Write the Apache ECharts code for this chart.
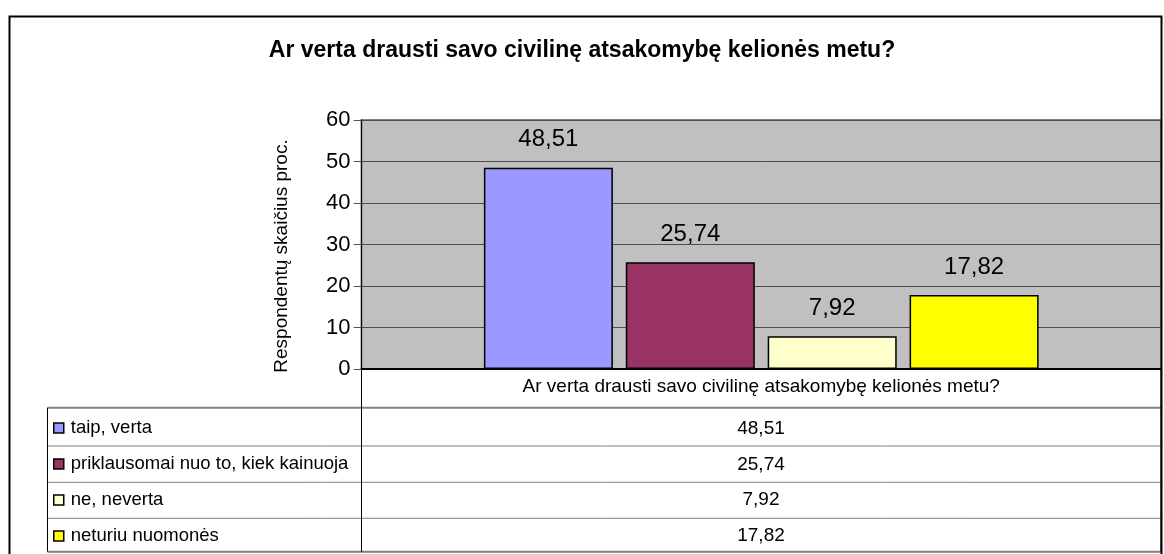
<!DOCTYPE html>
<html>
<head>
<meta charset="utf-8">
<script src="https://cdn.jsdelivr.net/npm/echarts@6/dist/echarts.min.js"></script>
<style>
html,body{margin:0;padding:0;background:#fff;}
#chart{width:1164px;height:554px;}
</style>
</head>
<body>
<div id="chart"></div>
<script>
const chartTitle = 'Ar verta drausti savo civilinę atsakomybę kelionės metu?';
const categories = ['Ar verta drausti savo civilinę atsakomybę kelionės metu?'];
const seriesNames = ['taip, verta', 'priklausomai nuo to, kiek kainuoja', 'ne, neverta', 'neturiu nuomonės'];
const seriesValues = [48.51, 25.74, 7.92, 17.82];
const seriesColors = ['#9999FF', '#993366', '#FFFFCC', '#FFFF00'];
const yTicks = [0, 10, 20, 30, 40, 50, 60];
const yAxisName = 'Respondentų skaičius proc.';

const FONT = '"Liberation Sans", Arial, sans-serif';
const fmt = v => v.toFixed(2).replace('.', ',');

const chart = echarts.init(document.getElementById('chart'), null, {renderer: 'canvas'});

// table geometry
const tLeft = 47.5, tRight = 1161, plotLeft = 361.5, plotBottom = 369;
const rowLines = [407.7, 446, 482.3, 518.3, 551.7];
const rowCenters = [428.3, 464.3, 500.2, 535.7];

const graphics = [];
// outer border
graphics.push({type: 'rect', shape: {x: 9.5, y: 16.5, width: 1152, height: 560}, style: {fill: null, stroke: '#000', lineWidth: 2}, z: 100});
// table horizontal lines
rowLines.forEach((y, i) => {
  graphics.push({type: 'line', shape: {x1: tLeft, y1: y, x2: tRight, y2: y},
    style: {stroke: '#808080', lineWidth: (i === 0 || i === rowLines.length - 1) ? 2 : 1}, z: 50});
});
// table vertical lines
graphics.push({type: 'line', shape: {x1: tLeft, y1: rowLines[0], x2: tLeft, y2: rowLines[rowLines.length - 1]}, style: {stroke: '#000', lineWidth: 1}, z: 51});
graphics.push({type: 'line', shape: {x1: plotLeft, y1: plotBottom, x2: plotLeft, y2: rowLines[rowLines.length - 1]}, style: {stroke: '#000', lineWidth: 1}, z: 51});
graphics.push({type: 'line', shape: {x1: tRight, y1: plotBottom, x2: tRight, y2: rowLines[rowLines.length - 1]}, style: {stroke: '#000', lineWidth: 1}, z: 51});
// table values
seriesValues.forEach((v, i) => {
  graphics.push({type: 'text', x: 761, y: rowCenters[i],
    style: {text: fmt(v), font: '19px ' + FONT, fill: '#000', align: 'center', verticalAlign: 'middle'}, z: 52});
});

const option = {
  backgroundColor: '#ffffff',
  animation: false,
  title: {
    text: chartTitle,
    left: 'center',
    top: 34,
    textStyle: {fontFamily: FONT, fontSize: 23, fontWeight: 'bold', color: '#000'}
  },
  legend: {
    orient: 'vertical',
    left: 53,
    top: 418,
    padding: 0,
    height: 200,
    itemWidth: 10,
    itemHeight: 10,
    itemGap: 16,
    icon: 'rect',
    selectedMode: false,
    itemStyle: {borderColor: '#000', borderWidth: 1.5},
    textStyle: {fontFamily: FONT, fontSize: 18.5, color: '#000', lineHeight: 20, padding: [0, 0, 0, 2]},
    data: seriesNames
  },
  grid: {
    left: plotLeft, top: 120, right: 1164 - tRight, bottom: 554 - plotBottom,
    show: true, backgroundColor: '#C0C0C0', borderColor: '#808080', borderWidth: 2,
    containLabel: false
  },
  xAxis: {
    type: 'category',
    data: categories,
    axisLine: {show: true, lineStyle: {color: '#000', width: 2}},
    axisTick: {show: false},
    axisLabel: {fontFamily: FONT, fontSize: 19, color: '#000', margin: 8},
    splitLine: {show: false}
  },
  yAxis: {
    type: 'value',
    min: yTicks[0], max: yTicks[yTicks.length - 1], interval: 10,
    name: yAxisName,
    nameLocation: 'middle',
    nameRotate: 90,
    nameGap: 70,
    nameTextStyle: {fontFamily: FONT, fontSize: 19, color: '#000', padding: [0, 23, 0, 0]},
    axisLine: {show: true, lineStyle: {color: '#000', width: 1}},
    axisTick: {show: true, inside: false, length: 8, lineStyle: {color: '#555', width: 1}},
    axisLabel: {fontFamily: FONT, fontSize: 22, color: '#000', margin: 11},
    splitLine: {show: true, lineStyle: {color: '#4d4d4d', width: 1}}
  },
  series: seriesNames.map((name, i) => ({
    name: name,
    type: 'bar',
    data: [seriesValues[i]],
    barWidth: 129,
    barGap: '10%',
    itemStyle: {color: seriesColors[i], borderColor: '#000', borderWidth: 1.5},
    label: {
      show: true, position: 'top', distance: 16,
      fontFamily: FONT, fontSize: 24, color: '#000',
      formatter: p => fmt(p.value)
    }
  })),
  graphic: graphics
};
chart.setOption(option);
</script>
</body>
</html>
